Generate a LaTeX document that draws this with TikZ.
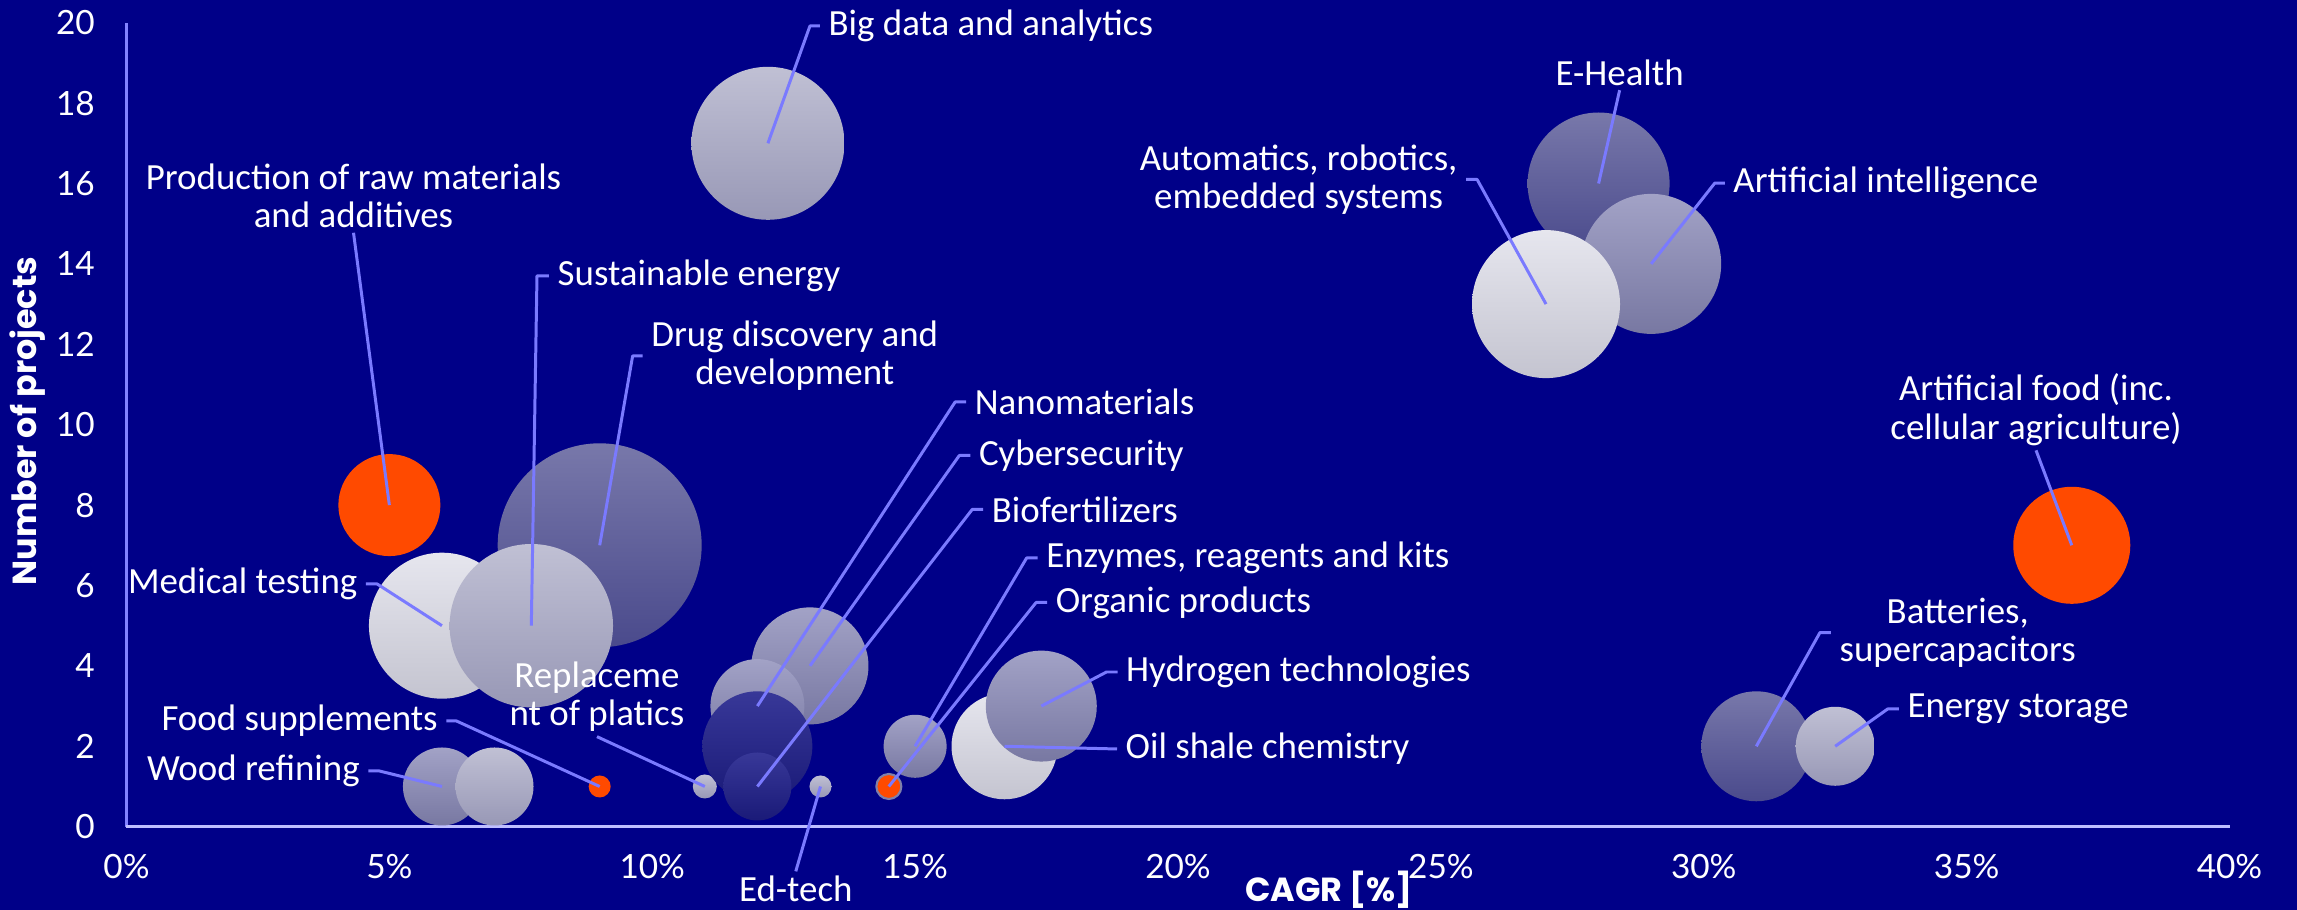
\documentclass[tikz,border=0pt]{standalone}
\usepackage{fontspec}
\setmainfont{Carlito}
\newfontfamily\tickfont{Lato}
\newfontfamily\titlefont{Poppins}
\usepackage{tikz}
\usetikzlibrary{calc}

\definecolor{navy}{RGB}{0,0,136}
\definecolor{leadblue}{RGB}{122,122,255}
\definecolor{yaxiscol}{RGB}{130,130,255}
\definecolor{xaxiscol}{RGB}{190,190,255}
\definecolor{hotorange}{RGB}{255,74,0}
\definecolor{ringgrey}{RGB}{128,128,170}
\definecolor{paletop}{RGB}{192,192,212}
\definecolor{palebot}{RGB}{152,152,182}
\definecolor{snowtop}{RGB}{230,230,238}
\definecolor{snowbot}{RGB}{196,196,208}
\definecolor{lilactop}{RGB}{162,162,198}
\definecolor{lilacbot}{RGB}{120,120,162}
\definecolor{slatetop}{RGB}{120,120,170}
\definecolor{slatebot}{RGB}{74,74,140}
\definecolor{deeptop}{RGB}{56,56,152}
\definecolor{deepbot}{RGB}{26,26,120}

\begin{document}
\begin{tikzpicture}[x=0.52575cm, y=0.402cm,
    bub/.style={circle, inner sep=0pt, minimum size=#1},
    pale/.style={top color=paletop, bottom color=palebot},
    snow/.style={top color=snowtop, bottom color=snowbot},
    lilac/.style={top color=lilactop, bottom color=lilacbot},
    slate/.style={top color=slatetop, bottom color=slatebot},
    deep/.style={top color=deeptop, bottom color=deepbot},
    hot/.style={fill=hotorange},
    lab/.style={text=white, font=\fontsize{10.5}{10.9}\selectfont, align=center, inner xsep=0.08cm, inner ysep=0.04cm},
    lead/.style={draw=leadblue, line width=0.85pt, line join=round},
    ticklab/.style={text=white, font=\tickfont\fontsize{9.5}{10}\selectfont, inner sep=0pt},
    axtitle/.style={text=white, font=\titlefont\bfseries\fontsize{9.5}{10}\selectfont, inner sep=0pt}]

    % background and frame
    \fill[navy] (-2.406,-2.072) rectangle (41.284,20.565);
    \useasboundingbox (-2.406,-2.072) rectangle (41.284,20.565);

    % axes
    \coordinate (O) at (0,0);
    \coordinate (ytop) at (0,20);
    \coordinate (xend) at (40,0);
    \draw[yaxiscol, line width=0.6pt] (O) -- (ytop);
    \draw[xaxiscol, line width=0.7pt] (O) -- (xend);

    \foreach \v in {0,2,...,20}
        \node[ticklab, anchor=east] (yt\v) at (-0.59,\v) {\v};
    \foreach \v in {0,5,...,40}
        \node[ticklab] (xt\v) at (\v,-0.995) {\v\%};

    \node[axtitle] (xtitle) at (22.87,-1.58) {CAGR [\%]};
    \node[axtitle, rotate=90] (ytitle) at (-1.873,10.09) {Number of projects};

    % bubbles
    \node[bub=0.78cm, lilac] (wood) at (6,1) {};
    \node[bub=0.78cm, pale] (woodb) at (7,1) {};
    \node[bub=1.02cm, hot] (prod) at (5,8) {};
    \node[bub=2.04cm, slate] (drug) at (9,7) {};
    \node[bub=1.46cm, snow] (med) at (6,5) {};
    \node[bub=1.634cm, pale] (sust) at (7.7,5) {};
    \node[bub=0.22cm, hot] (food) at (9,1) {};
    \node[bub=0.24cm, pale] (repl) at (11,1) {};
    \node[bub=1.17cm, lilac] (cyber) at (13,4) {};
    \node[bub=0.94cm, lilac] (nano) at (12,3) {};
    \node[bub=1.10cm, deep] (deep12) at (12,2) {};
    \node[bub=0.68cm, deep] (bio) at (12,1) {};
    \node[bub=0.22cm, pale] (edtech) at (13.2,1) {};
    \node[bub=0.25cm, hot, draw=ringgrey, line width=0.6pt] (organic) at (14.5,1) {};
    \node[bub=0.63cm, lilac] (enz) at (15,2) {};
    \node[bub=1.06cm, snow] (oil) at (16.7,2) {};
    \node[bub=1.11cm, lilac] (hydro) at (17.4,3) {};
    \node[bub=1.53cm, pale] (bigdata) at (12.2,17) {};
    \node[bub=1.42cm, slate] (ehealth) at (28,16) {};
    \node[bub=1.40cm, lilac] (ai) at (29,14) {};
    \node[bub=1.48cm, snow] (auto) at (27,13) {};
    \node[bub=1.17cm, hot] (artfood) at (37,7) {};
    \node[bub=1.10cm, slate] (batt) at (31,2) {};
    \node[bub=0.79cm, pale] (estor) at (32.5,2) {};

    % labels
    \node[lab, anchor=west] (lbigdata) at (13.19,19.92) {Big data and analytics};
    \node[lab] (lprod) at (4.318,15.69) {Production of raw materials\\and additives};
    \node[lab, anchor=west] (lsust) at (8.036,13.70) {Sustainable energy};
    \node[lab] (ldrug) at (12.71,11.71) {Drug discovery and\\development};
    \node[lab, anchor=east] (lmed) at (4.555,6.04) {Medical testing};
    \node[lab, anchor=east] (lfood) at (6.085,2.63) {Food supplements};
    \node[lab, anchor=east] (lwood) at (4.601,1.386) {Wood refining};
    \node[lab] (lrepl) at (8.949,3.226) {Replaceme\\nt of platics};
    \node[lab, anchor=west] (lnano) at (15.97,10.565) {Nanomaterials};
    \node[lab, anchor=west] (lcyber) at (16.05,9.234) {Cybersecurity};
    \node[lab, anchor=west] (lbio) at (16.295,7.891) {Biofertilizers};
    \node[lab, anchor=west] (lenz) at (17.33,6.684) {Enzymes, reagents and kits};
    \node[lab, anchor=west] (lorganic) at (17.51,5.577) {Organic products};
    \node[lab, anchor=west] (lhydro) at (18.85,3.848) {Hydrogen technologies};
    \node[lab, anchor=west] (loil) at (18.84,1.933) {Oil shale chemistry};
    \node[lab] (ledtech) at (12.73,-1.55) {Ed-tech};
    \node[lab, anchor=east] (lauto) at (25.48,16.10) {Automatics, robotics,\\embedded systems};
    \node[lab] (lehealth) at (28.40,18.76) {E-Health};
    \node[lab, anchor=west] (lai) at (30.40,16.01) {Artificial intelligence};
    \node[lab] (lartfood) at (36.32,10.37) {Artificial food (inc.\\cellular agriculture)};
    \node[lab, anchor=west] (lbatt) at (32.42,4.83) {Batteries,\\supercapacitors};
    \node[lab, anchor=west] (lestor) at (33.71,2.93) {Energy storage};

    % leader lines
    \draw[lead] (bigdata.center) -- ([xshift=-0.1cm]lbigdata.west) -- (lbigdata.west);
    \draw[lead] (lprod.south) -- (prod.center);
    \draw[lead] (sust.center) -- ([xshift=-0.12cm]lsust.west) -- (lsust.west);
    \draw[lead] (drug.center) -- ([xshift=-0.1cm]ldrug.west) -- (ldrug.west);
    \draw[lead] (med.center) -- ([xshift=0.11cm]lmed.east) -- (lmed.east);
    \draw[lead] (food.center) -- ([xshift=0.1cm]lfood.east) -- (lfood.east);
    \draw[lead] (wood.center) -- ([xshift=0.11cm]lwood.east) -- (lwood.east);
    \draw[lead] (lrepl.south) -- (repl.center);
    \draw[lead] (nano.center) -- ([xshift=-0.11cm]lnano.west) -- (lnano.west);
    \draw[lead] (cyber.center) -- ([xshift=-0.11cm]lcyber.west) -- (lcyber.west);
    \draw[lead] (bio.center) -- ([xshift=-0.11cm]lbio.west) -- (lbio.west);
    \draw[lead] (enz.center) -- ([xshift=-0.11cm]lenz.west) -- (lenz.west);
    \draw[lead] (organic.center) -- ([xshift=-0.11cm]lorganic.west) -- (lorganic.west);
    \draw[lead] (hydro.center) -- ([xshift=-0.11cm]lhydro.west) -- (lhydro.west);
    \draw[lead] (oil.center) -- (loil.west);
    \draw[lead] (ledtech.north) -- (edtech.center);
    \draw[lead] (auto.center) -- ([xshift=0.11cm]lauto.east) -- (lauto.east);
    \draw[lead] (lehealth.south) -- (ehealth.center);
    \draw[lead] (ai.center) -- ([xshift=-0.1cm]lai.west) -- (lai.west);
    \draw[lead] (lartfood.south) -- (artfood.center);
    \draw[lead] (batt.center) -- ([xshift=-0.11cm]lbatt.west) -- (lbatt.west);
    \draw[lead] (estor.center) -- ([xshift=-0.11cm]lestor.west) -- (lestor.west);

\end{tikzpicture}
\end{document}
